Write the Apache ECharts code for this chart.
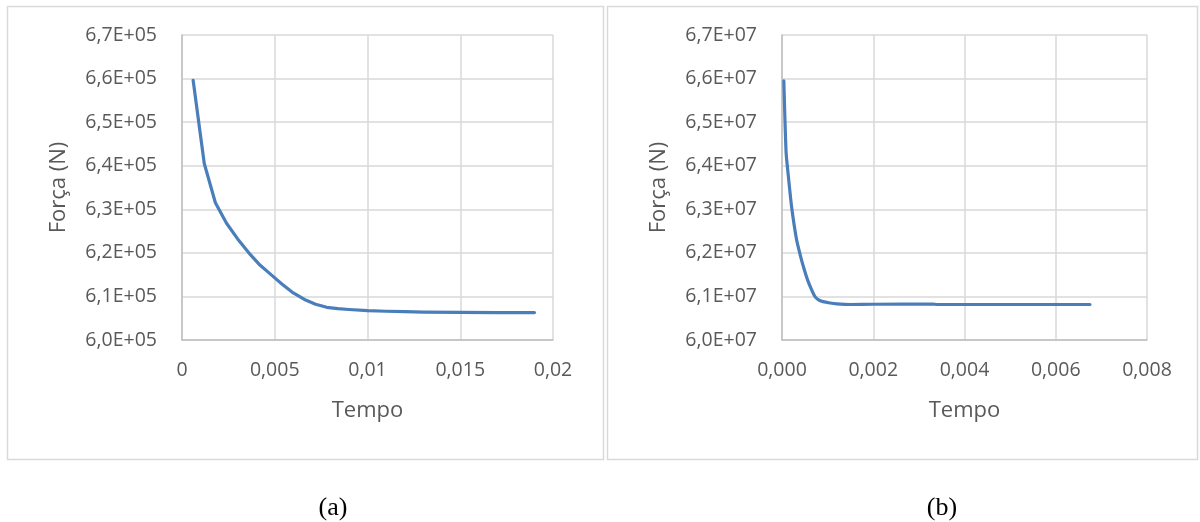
<!DOCTYPE html>
<html>
<head>
<meta charset="utf-8">
<script src="https://cdn.jsdelivr.net/npm/echarts@6/dist/echarts.min.js"></script>
<style>
  html, body { margin: 0; padding: 0; background: #ffffff; }
  #chart { width: 1200px; height: 522px; }
</style>
</head>
<body>
<div id="chart"></div>
<script>
// (a) force over time, N
const tempoA = [0.0006, 0.0012, 0.0018, 0.0024, 0.0030, 0.0036, 0.0042, 0.0048, 0.0054, 0.0060,
                0.0066, 0.0072, 0.0078, 0.0084, 0.0090, 0.0100, 0.0110, 0.0120, 0.0130, 0.0150,
                0.0170, 0.0190];
const forcaA = [659600, 640500, 631500, 626800, 623200, 620000, 617200, 615000, 612800, 610800,
                609300, 608200, 607500, 607200, 607000, 606750, 606600, 606500, 606400, 606350,
                606300, 606300];

// (b) force over time, N
const tempoB = [0.00004, 0.00009, 0.00014, 0.00021, 0.00032, 0.00040, 0.00047, 0.00056, 0.00065,
                0.00072, 0.00080, 0.00090, 0.00105, 0.00120, 0.00150, 0.00200, 0.00330, 0.00340,
                0.00675];
const forcaB = [65950000, 64300000, 63750000, 63060000, 62300000, 61950000, 61680000, 61380000,
                61150000, 61000000, 60920000, 60880000, 60850000, 60830000, 60815000, 60820000,
                60825000, 60815000, 60815000];

const yTicksA = [600000, 670000, 10000];     // min, max, step
const yTicksB = [60000000, 67000000, 1000000];
const xTicksA = [0, 0.02, 0.005];
const xTicksB = [0, 0.008, 0.002];

const captions = ['(a)', '(b)'];
const yName = 'Força (N)';
const xName = 'Tempo';

const pairs = (xs, ys) => xs.map((x, i) => [x, ys[i]]);

const textColor = '#595959';
const uiFont = 'Open Sans';

function yFmt(exp) {
  return v => (v / Math.pow(10, exp)).toFixed(1).replace('.', ',') + 'E+' + String(exp).padStart(2, '0');
}

function xAxis(ticks, gridIndex, fmt) {
  return {
    type: 'value', gridIndex,
    min: ticks[0], max: ticks[1], interval: ticks[2],
    name: xName, nameLocation: 'middle', nameGap: 60,
    nameTextStyle: { color: textColor, fontFamily: uiFont, fontSize: 22 },
    axisLine: { show: true, lineStyle: { color: '#bfbfbf', width: 1.5 } },
    axisTick: { show: false },
    axisLabel: { color: textColor, fontFamily: uiFont, fontSize: 19.5, margin: 20, formatter: fmt },
    splitLine: { show: true, lineStyle: { color: '#d9d9d9', width: 1.5 } }
  };
}

function yAxis(ticks, gridIndex, exp) {
  return {
    type: 'value', gridIndex,
    min: ticks[0], max: ticks[1], interval: ticks[2],
    name: yName, nameLocation: 'middle', nameGap: 112,
    nameTextStyle: { color: textColor, fontFamily: uiFont, fontSize: 22 },
    axisLine: { show: true, lineStyle: { color: '#bfbfbf', width: 1.5 } },
    axisTick: { show: false },
    axisLabel: { color: textColor, fontFamily: uiFont, fontSize: 19.5, margin: 25, formatter: yFmt(exp) },
    splitLine: { show: true, lineStyle: { color: '#d9d9d9', width: 1.5 } }
  };
}

const chart = echarts.init(document.getElementById('chart'), null, { renderer: 'canvas' });

chart.setOption({
  backgroundColor: '#ffffff',
  animation: false,
  grid: [
    { left: 182, top: 35, width: 371, height: 305 },
    { left: 782, top: 35, width: 365, height: 305 }
  ],
  xAxis: [
    xAxis(xTicksA, 0, v => String(Number(v.toFixed(3))).replace('.', ',')),
    xAxis(xTicksB, 1, v => v.toFixed(3).replace('.', ','))
  ],
  yAxis: [
    yAxis(yTicksA, 0, 5),
    yAxis(yTicksB, 1, 7)
  ],
  series: [
    {
      type: 'line', xAxisIndex: 0, yAxisIndex: 0,
      data: pairs(tempoA, forcaA), showSymbol: false, smooth: false,
      lineStyle: { color: '#4a7ebb', width: 3.2, join: 'round', cap: 'round' }
    },
    {
      type: 'line', xAxisIndex: 1, yAxisIndex: 1,
      data: pairs(tempoB, forcaB), showSymbol: false, smooth: 0.2,
      lineStyle: { color: '#4a7ebb', width: 3.2, join: 'round', cap: 'round' }
    }
  ],
  graphic: [
    { type: 'rect', shape: { x: 7.5, y: 6.5, width: 596, height: 453 },
      style: { fill: 'none', stroke: '#d9d9d9', lineWidth: 1.5 }, silent: true },
    { type: 'rect', shape: { x: 607.5, y: 6.5, width: 590, height: 453 },
      style: { fill: 'none', stroke: '#d9d9d9', lineWidth: 1.5 }, silent: true },
    { type: 'text', x: 333, y: 508,
      style: { text: captions[0], fill: '#000000', font: '26px "Liberation Serif"', align: 'center', verticalAlign: 'middle' } },
    { type: 'text', x: 942, y: 508,
      style: { text: captions[1], fill: '#000000', font: '26px "Liberation Serif"', align: 'center', verticalAlign: 'middle' } }
  ]
});
</script>
</body>
</html>
